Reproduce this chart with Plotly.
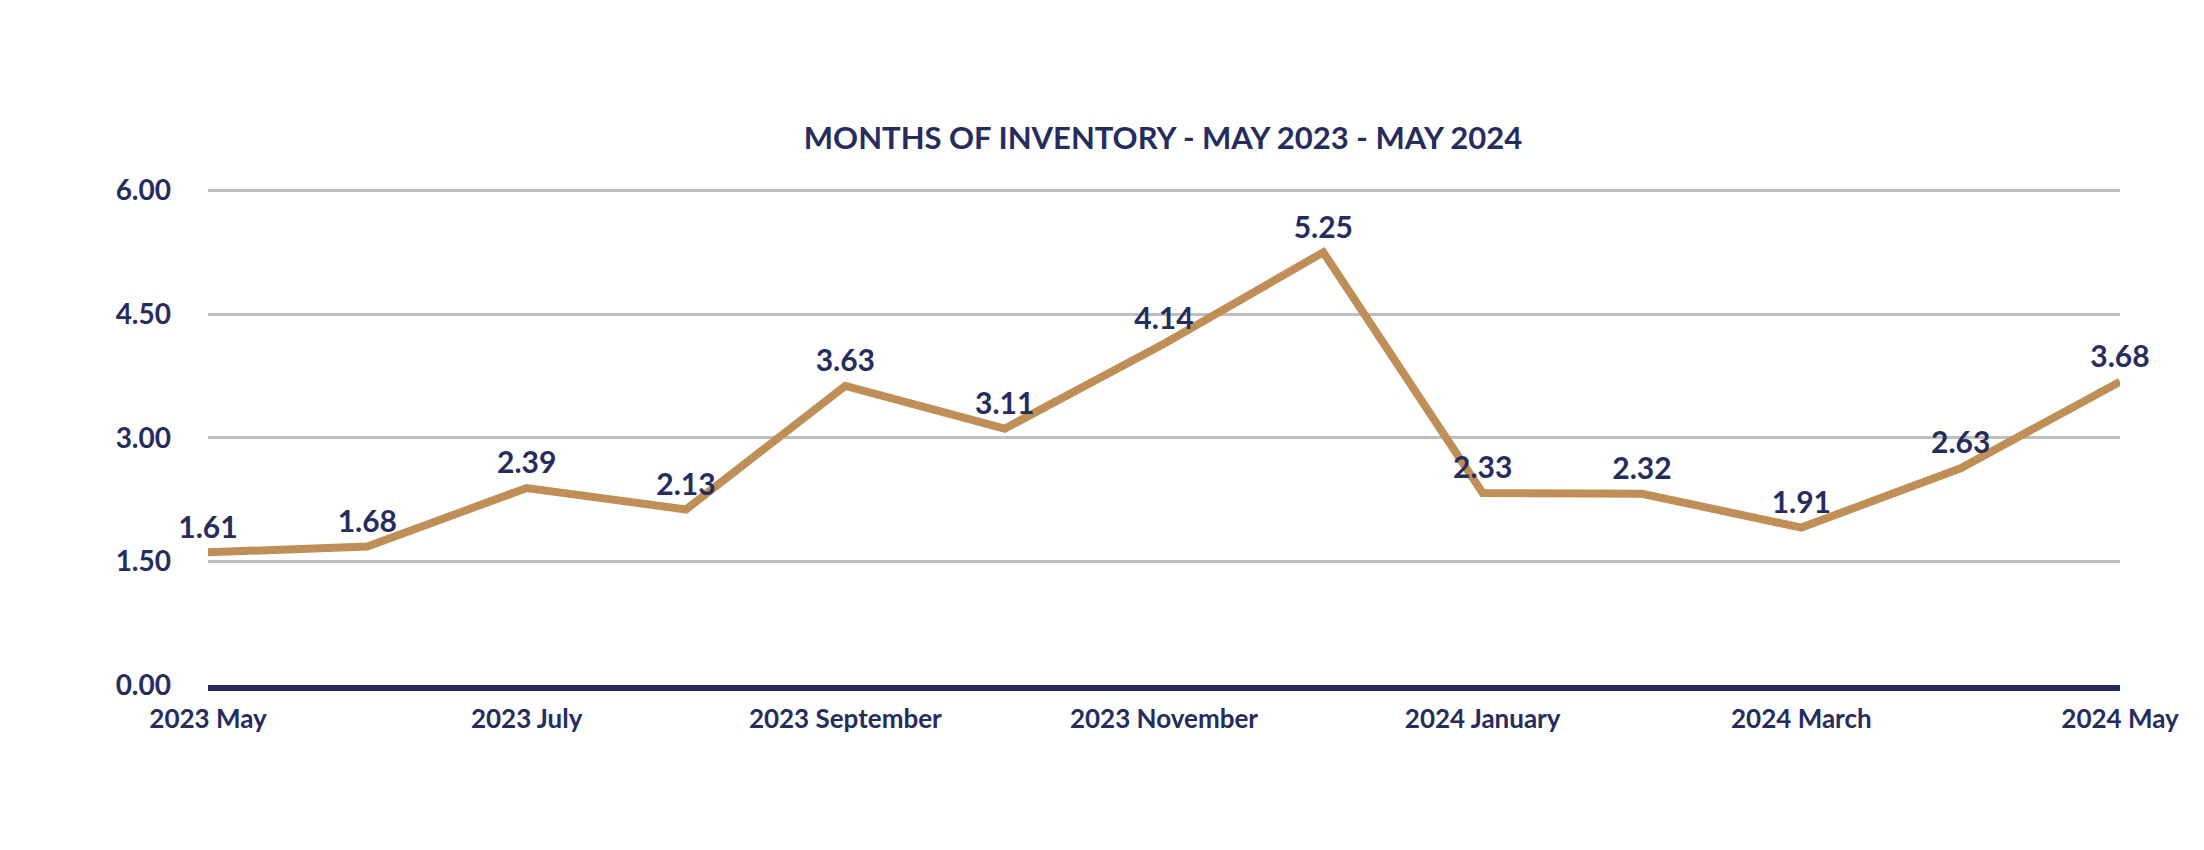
import plotly.graph_objects as go

months = ["2023 May", "2023 June", "2023 July", "2023 August", "2023 September",
          "2023 October", "2023 November", "2023 December", "2024 January",
          "2024 February", "2024 March", "2024 April", "2024 May"]
values = [1.61, 1.68, 2.39, 2.13, 3.63, 3.11, 4.14, 5.25, 2.33, 2.32, 1.91, 2.63, 3.68]
tick_months = ["2023 May", "2023 July", "2023 September", "2023 November",
               "2024 January", "2024 March", "2024 May"]
y_ticks = [0, 1.5, 3, 4.5, 6]
title = "MONTHS OF INVENTORY - MAY 2023 - MAY 2024"

NAVY = "#262c5e"
GOLD = "#bf8f57"
FONT = "Lato"

fig = go.Figure()
fig.add_trace(go.Scatter(
    x=months, y=values, mode="lines+markers+text",
    line=dict(color=GOLD, width=8),
    marker=dict(size=10, color=GOLD, opacity=0),
    text=[f"{v:.2f}" for v in values],
    textposition="top center",
    textfont=dict(family=FONT, size=30, color=NAVY, weight="bold"),
    cliponaxis=False, hoverinfo="skip",
))

fig.update_layout(
    width=2204, height=850,
    paper_bgcolor="white", plot_bgcolor="white",
    margin=dict(l=200, r=92, t=180, b=173),
    showlegend=False,
    title=dict(text=title, x=(1163 - 8) / 2204, xanchor="center", y=1 - (138 - 8) / 850,
               yanchor="middle",
               font=dict(family=FONT, size=31, color=NAVY, weight="bold")),
    xaxis=dict(
        type="category", categoryorder="array", categoryarray=months,
        range=[0, 12], tickmode="array", tickvals=tick_months, ticktext=tick_months,
        showgrid=False, zeroline=False,
        showline=True, linecolor=NAVY, linewidth=6,
        ticks="", ticklabelstandoff=6,
        tickfont=dict(family=FONT, size=26, color=NAVY, weight="bold"),
    ),
    yaxis=dict(
        range=[0, 6.03], tickmode="array", tickvals=y_ticks,
        ticktext=[f"{v:.2f}" for v in y_ticks],
        showgrid=True, gridcolor="#bfbfbf", gridwidth=2.5,
        zeroline=False, showline=False, ticks="", ticklabelstandoff=36,
        tickfont=dict(family=FONT, size=28, color=NAVY, weight="bold"),
    ),
)

fig.write_html("out.html")
